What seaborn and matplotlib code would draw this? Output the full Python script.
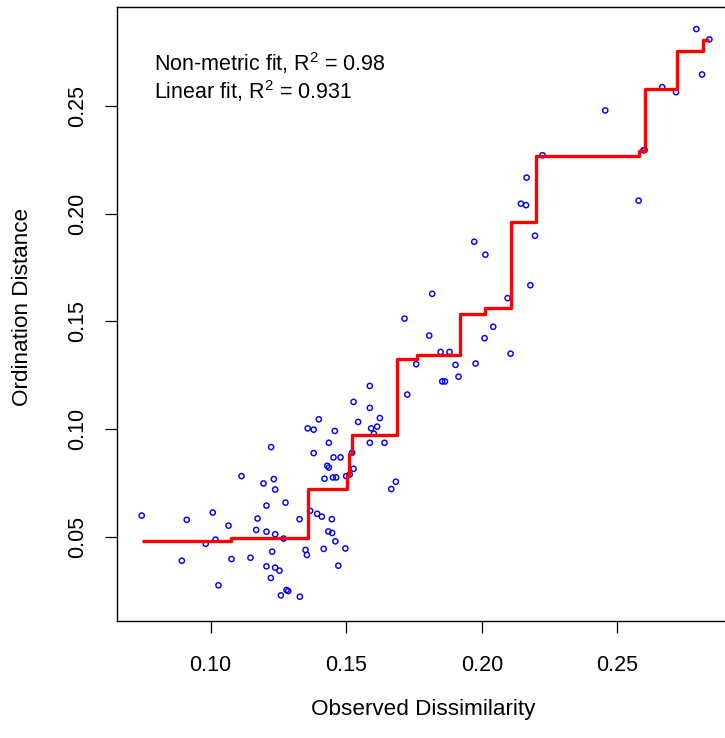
import matplotlib
matplotlib.use("Agg")
import matplotlib.pyplot as plt
import seaborn as sns

# Shepard diagram: observed community dissimilarity vs. distance in the ordination
observed = [
    0.0746, 0.0894, 0.0912, 0.0982, 0.1008, 0.1018, 0.1029, 0.1066, 0.1077, 0.1114,
    0.1147, 0.1168, 0.1173, 0.1195, 0.1206, 0.1206, 0.1206, 0.1222, 0.1223, 0.1227,
    0.1233, 0.1238, 0.1238, 0.1238, 0.1254, 0.1259, 0.1269, 0.1276, 0.1280, 0.1286,
    0.1328, 0.1329, 0.1350, 0.1355, 0.1358, 0.1367, 0.1380, 0.1380, 0.1393, 0.1399,
    0.1410, 0.1420, 0.1417, 0.1430, 0.1436, 0.1436, 0.1434, 0.1447, 0.1451, 0.1453,
    0.1448, 0.1458, 0.1463, 0.1460, 0.1471, 0.1479, 0.1497, 0.1500, 0.1513, 0.1522,
    0.1527, 0.1527, 0.1544, 0.1587, 0.1587, 0.1587, 0.1592, 0.1602, 0.1614, 0.1624,
    0.1641, 0.1666, 0.1683, 0.1715, 0.1725, 0.1758, 0.1806, 0.1817, 0.1848, 0.1854,
    0.1864, 0.1881, 0.1903, 0.1914, 0.1972, 0.1977, 0.2010, 0.2013, 0.2042, 0.2095,
    0.2106, 0.2144, 0.2163, 0.2165, 0.2179, 0.2196, 0.2224, 0.2455, 0.2578, 0.2596,
    0.2600, 0.2665, 0.2716, 0.2791, 0.2812, 0.2839,
]
ordination = [
    0.0598, 0.0388, 0.0578, 0.0467, 0.0612, 0.0486, 0.0274, 0.0551, 0.0396, 0.0781,
    0.0402, 0.0531, 0.0584, 0.0747, 0.0644, 0.0523, 0.0362, 0.0308, 0.0916, 0.0430,
    0.0767, 0.0719, 0.0511, 0.0356, 0.0342, 0.0227, 0.0491, 0.0658, 0.0252, 0.0247,
    0.0581, 0.0221, 0.0438, 0.0415, 0.1003, 0.0620, 0.0997, 0.0888, 0.0606, 0.1045,
    0.0593, 0.0769, 0.0443, 0.0829, 0.0821, 0.0936, 0.0524, 0.0581, 0.0775, 0.0868,
    0.0517, 0.0991, 0.0775, 0.0478, 0.0365, 0.0868, 0.0445, 0.0781, 0.0789, 0.0890,
    0.0815, 0.1126, 0.1033, 0.1200, 0.1098, 0.0936, 0.1003, 0.0978, 0.1011, 0.1051,
    0.0936, 0.0721, 0.0755, 0.1513, 0.1160, 0.1301, 0.1434, 0.1628, 0.1358, 0.1221,
    0.1221, 0.1358, 0.1298, 0.1243, 0.1870, 0.1304, 0.1422, 0.1810, 0.1475, 0.1608,
    0.1350, 0.2047, 0.2040, 0.2168, 0.1668, 0.1898, 0.2272, 0.2480, 0.2061, 0.2295,
    0.2296, 0.2588, 0.2565, 0.2858, 0.2647, 0.2810,
]

# Monotone (non-metric) fit drawn as a step function
fit_x = [0.0746, 0.1077, 0.1359, 0.1504, 0.1512, 0.1522, 0.1688, 0.1761, 0.1918,
         0.2012, 0.2108, 0.2200, 0.2581, 0.2602, 0.2719, 0.2817, 0.2839]
fit_y = [0.0481, 0.0493, 0.0723, 0.0787, 0.0884, 0.0970, 0.1324, 0.1346, 0.1533,
         0.1560, 0.1962, 0.2269, 0.2292, 0.2578, 0.2755, 0.2806, 0.2806]

x_ticks = [0.10, 0.15, 0.20, 0.25]
y_ticks = [0.05, 0.10, 0.15, 0.20, 0.25]
nonmetric_r2 = "0.98"
linear_r2 = "0.931"

sns.set_style("white")
plt.rcParams["font.family"] = ["Liberation Sans", "DejaVu Sans"]
plt.rcParams["mathtext.fontset"] = "custom"
plt.rcParams["mathtext.rm"] = "Liberation Sans"
plt.rcParams["mathtext.it"] = "Liberation Sans:italic"
plt.rcParams["mathtext.bf"] = "Liberation Sans:bold"
plt.rcParams["text.color"] = "black"
plt.rcParams["axes.labelcolor"] = "black"
plt.rcParams["xtick.color"] = "black"
plt.rcParams["ytick.color"] = "black"

W, H = 725, 738
fig = plt.figure(figsize=(W / 100, H / 100), dpi=100)
left, right, top, bottom = 117.3, 730.0, 6.7, 621.0
ax = fig.add_axes([left / W, 1 - bottom / H, (right - left) / W, (bottom - top) / H])

sns.scatterplot(x=observed, y=ordination, ax=ax, marker="o", s=14,
                facecolors="none", edgecolor="#0000FF", linewidth=1.05, zorder=2)
sns.lineplot(x=fit_x, y=fit_y, ax=ax, estimator=None, sort=False,
             drawstyle="steps-post", color="#FF0000", linewidth=2.4,
             solid_capstyle="butt", zorder=3)

ax.set_xlim(0.0656, 0.2915)
ax.set_ylim(0.0108, 0.2962)
ax.set_xticks(x_ticks)
ax.set_xticklabels([f"{t:.2f}" for t in x_ticks])
ax.set_yticks(y_ticks)
ax.set_yticklabels([f"{t:.2f}" for t in y_ticks], rotation=90, va="center")

for side in ["left", "right", "top", "bottom"]:
    ax.spines[side].set_visible(True)
    ax.spines[side].set_color("black")
    ax.spines[side].set_linewidth(1.0)

ax.tick_params(axis="x", direction="out", length=8.6, width=0.9, pad=16.0,
               labelsize=15.5, colors="black", labelcolor="black", bottom=True)
ax.tick_params(axis="y", direction="out", length=8.6, width=0.9, pad=12.5,
               labelsize=15.5, colors="black", labelcolor="black", left=True)

ax.set_xlabel("Observed Dissimilarity", fontsize=16.2, va="center", color="black")
ax.xaxis.set_label_coords(0.5, (bottom - 709) / (bottom - top))
ax.set_ylabel("Ordination Distance", fontsize=16.2, va="center", ha="center", color="black")
ax.yaxis.set_label_coords((22 - left) / (right - left), (bottom - 307) / (bottom - top))

tx = (154 - left) / (right - left)
ax.text(tx, (bottom - 70.7) / (bottom - top),
        r"Non-metric fit, $\mathrm{R}^{2}$ = " + nonmetric_r2,
        transform=ax.transAxes, fontsize=15.5, va="baseline", ha="left", color="black")
ax.text(tx, (bottom - 98.8) / (bottom - top),
        r"Linear fit, $\mathrm{R}^{2}$ = " + linear_r2,
        transform=ax.transAxes, fontsize=15.5, va="baseline", ha="left", color="black")

fig.savefig("out.png", dpi=100, facecolor="white")
